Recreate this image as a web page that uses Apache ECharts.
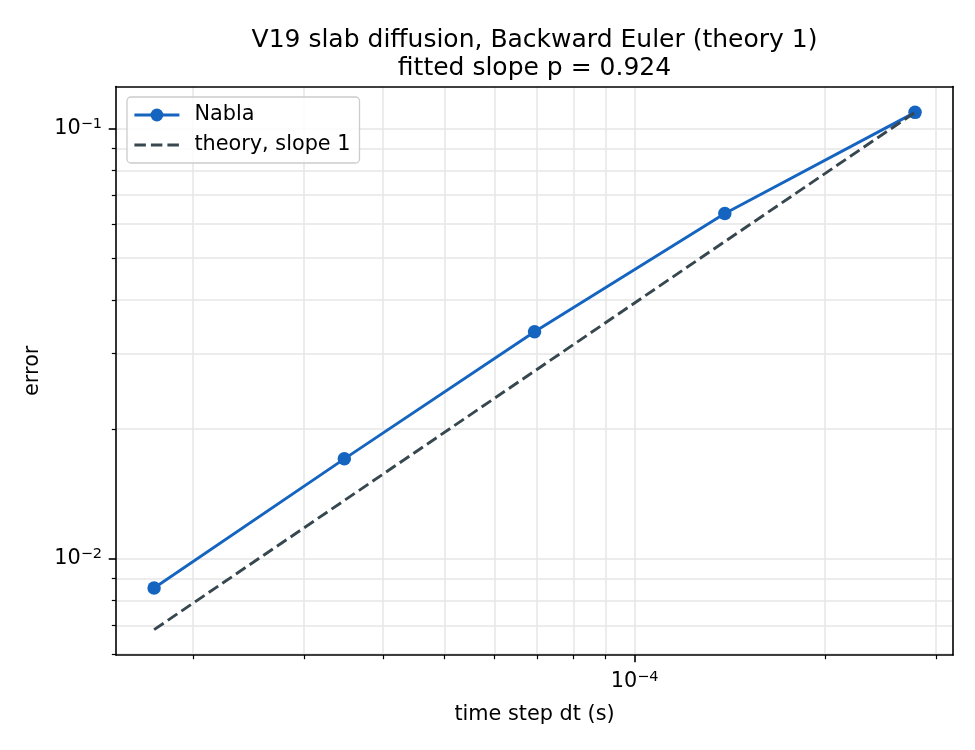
<!DOCTYPE html>
<html>
<head>
<meta charset="utf-8">
<script src="https://cdn.jsdelivr.net/npm/echarts@6/dist/echarts.min.js"></script>
<style>
  html, body { margin: 0; padding: 0; background: #fff; }
  #chart { width: 975px; height: 750px; }
</style>
</head>
<body>
<div id="chart"></div>
<script>
let $ = a => document.querySelector(a)

// time steps (s) and measured errors
const dtValues = [1.736e-5, 3.472e-5, 6.944e-5, 1.389e-4, 2.778e-4]
const nablaErrors = [0.00855, 0.01707, 0.03372, 0.06349, 0.1091]
// dashed reference line, slope 1
const theoryErrors = [0.00684, 0.01366, 0.02731, 0.05463, 0.1091]

// labelled (major) ticks
const xMajorTicks = [1e-4]
const yMajorTicks = [1e-2, 1e-1]

const seriesNames = ['Nabla', 'theory, slope 1']
const titleLines = ['V19 slab diffusion, Backward Euler (theory 1)', 'fitted slope p = 0.924']

const FONT = 'DejaVu Sans'
const X_RANGE = [1.511e-5, 3.19e-4]
const Y_RANGE = [0.005972, 0.1253]

// 10^-4 style label
function powLabel(v) {
    let e = Math.log10(v)
    let r = Math.round(e)
    if (Math.abs(e - r) > 1e-6) return ''
    return '{b|10}{s|' + (r < 0 ? '\u2212' : '') + Math.abs(r) + '}'
}

const labelRich = {
    b: { fontSize: 20.8, fontFamily: FONT, color: '#000', lineHeight: 26 },
    s: { fontSize: 14.5, fontFamily: FONT, color: '#000', lineHeight: 14, verticalAlign: 'top', padding: [1, 0, 0, 0] }
}

function logAxis(range, ticks, extra) {
    return Object.assign({
        type: 'log',
        logBase: 10,
        min: range[0],
        max: range[1],
        z: 0,
        axisLine: { show: true, onZero: false, lineStyle: { color: '#000', width: 1.6 } },
        axisTick: { show: true, inside: false, length: 7.3, customValues: ticks, lineStyle: { color: '#000', width: 1.6 } },
        minorTick: { show: true, splitNumber: 9, length: 4.2, lineStyle: { color: '#000', width: 1.2 } },
        splitLine: { show: true, lineStyle: { color: '#e6e6e6', width: 1.5 } },
        minorSplitLine: { show: true, lineStyle: { color: '#e6e6e6', width: 1.5 } },
        axisLabel: { formatter: powLabel, customValues: ticks, rich: labelRich, margin: 14 },
        nameLocation: 'middle',
        nameTextStyle: { fontSize: 20.8, fontFamily: FONT, color: '#000' }
    }, extra)
}

// plain spine for the top / right side
function frameAxis(range, pos) {
    return {
        type: 'log', logBase: 10, min: range[0], max: range[1], position: pos, z: 5,
        axisLine: { show: true, onZero: false, lineStyle: { color: '#000', width: 1.6 } },
        axisTick: { show: false }, axisLabel: { show: false }, splitLine: { show: false }
    }
}

let chart = echarts.init($('#chart'))
chart.setOption({
    animation: false,
    backgroundColor: '#fff',
    title: {
        text: titleLines.join('\n'),
        left: 529.5,
        top: 21,
        textAlign: 'center',
        textStyle: { fontSize: 25, fontWeight: 'normal', color: '#000', fontFamily: FONT, lineHeight: 28 }
    },
    legend: {
        orient: 'vertical',
        left: 127,
        top: 97,
        padding: [6, 9, 6, 6],
        itemGap: 6,
        itemWidth: 45,
        itemHeight: 16,
        backgroundColor: 'rgba(255,255,255,0.85)',
        borderColor: '#cccccc',
        borderWidth: 1.3,
        borderRadius: 4,
        lineStyle: { width: 2.8 },
        textStyle: { fontSize: 20.8, fontFamily: FONT, color: '#000', lineHeight: 24, padding: [0, 0, 0, 10] },
        data: [
            { name: seriesNames[0] },
            { name: seriesNames[1], itemStyle: { color: 'rgba(0,0,0,0)', borderWidth: 0 } }
        ]
    },
    grid: {
        left: 116, right: 22, top: 86.5, bottom: 95
    },
    xAxis: [
        logAxis(X_RANGE, xMajorTicks, { name: 'time step dt (s)', nameGap: 49 }),
        frameAxis(X_RANGE, 'top')
    ],
    yAxis: [
        logAxis(Y_RANGE, yMajorTicks, { name: 'error', nameGap: 69 }),
        frameAxis(Y_RANGE, 'right')
    ],
    series: [
        {
            name: seriesNames[0],
            type: 'line',
            data: dtValues.map((d, i) => [d, nablaErrors[i]]),
            symbol: 'circle',
            symbolSize: 13.5,
            lineStyle: { color: '#1565c0', width: 2.9 },
            itemStyle: { color: '#1565c0' },
            z: 2
        },
        {
            name: seriesNames[1],
            type: 'line',
            data: dtValues.map((d, i) => [d, theoryErrors[i]]),
            symbol: 'none',
            lineStyle: { color: '#37474f', width: 2.9, type: [11.5, 5] },
            itemStyle: { color: '#37474f' },
            z: 3
        }
    ]
})
</script>
</body>
</html>
